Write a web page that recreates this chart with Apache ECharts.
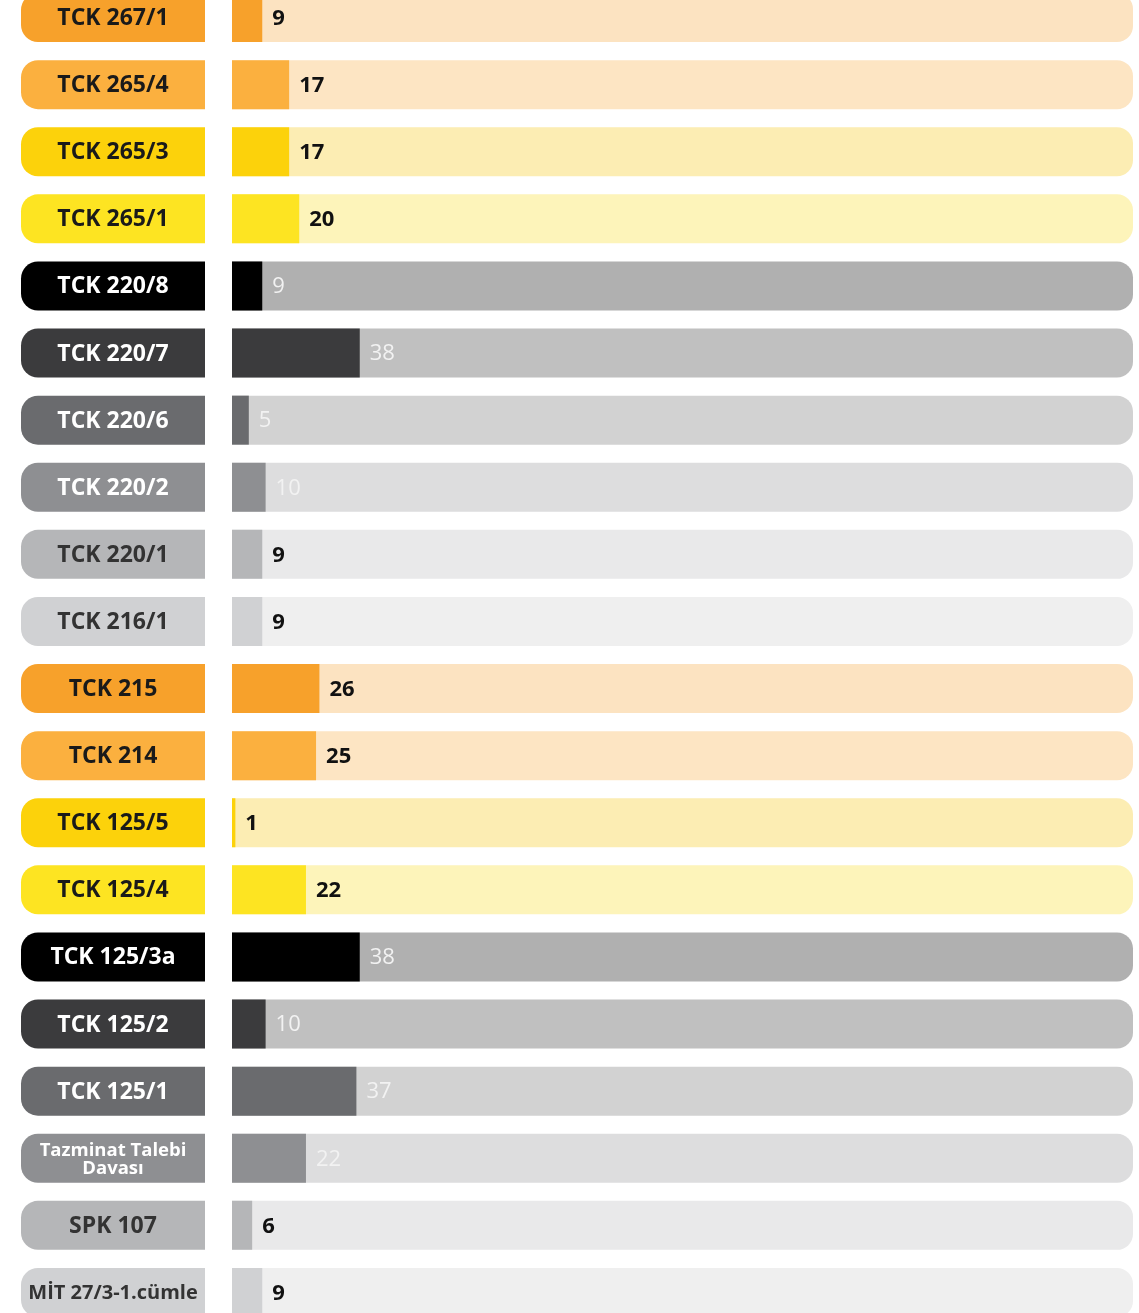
<!DOCTYPE html>
<html>
<head>
<meta charset="utf-8">
<script src="https://cdn.jsdelivr.net/npm/echarts@6/dist/echarts.min.js"></script>
<style>
html,body{margin:0;padding:0;background:#fff;overflow:hidden;width:1139px;height:1313px;}
#chart{position:absolute;left:0;top:-16px;width:1139px;height:1342px;}
</style>
</head>
<body>
<div id="chart"></div>
<script>
const categories = ['TCK 267/1','TCK 265/4','TCK 265/3','TCK 265/1','TCK 220/8','TCK 220/7','TCK 220/6','TCK 220/2','TCK 220/1','TCK 216/1','TCK 215','TCK 214','TCK 125/5','TCK 125/4','TCK 125/3a','TCK 125/2','TCK 125/1','Tazminat Talebi\nDavası','SPK 107','MİT 27/3-1.cümle'];
const values = [9,17,17,20,9,38,5,10,9,9,26,25,1,22,38,10,37,22,6,9];
const axisMax = 268;

const mainColors = ['#F7A12B','#FBB03F','#FCD20B','#FDE422','#000000','#3B3B3D','#6A6B6E','#8E8F92','#B5B6B8','#D0D1D3'];
const trackColors = ['#FCE3C1','#FDE5C3','#FCEDB3','#FDF4BA','#B0B0B0','#C0C0C0','#D2D2D2','#DDDDDE','#E9E9EA','#EFEFEF'];
const boxTextColors = ['#1a1a1a','#1a1a1a','#1a1a1a','#1a1a1a','#ffffff','#ffffff','#ffffff','#ffffff','#333333','#333333'];
const valueLight = [false,false,false,false,true,true,true,true,false,false];

const chart = echarts.init(document.getElementById('chart'), null, {renderer:'canvas'});
const FONT = '"Open Sans", sans-serif';
const barW = 49;

const boxData = categories.map((c,i)=>{
  const k = i % 10;
  let fs = 23, lh = 27;
  if (c.indexOf('\n')>=0) { fs = 18.5; lh = 18; }
  else if (c.length > 12) { fs = 20; lh = 24; }
  return {value:1, itemStyle:{color:mainColors[k]},
    label:{color:boxTextColors[k], fontSize:fs, lineHeight:lh}};
});
const trackData = categories.map((c,i)=>({value:axisMax, itemStyle:{color:trackColors[i%10]}}));
const valueData = values.map((v,i)=>{
  const k = i % 10;
  const light = valueLight[k];
  return {value:v, itemStyle:{color:mainColors[k]},
    label:{color: light ? '#f2f2f2' : '#111111', fontWeight: light ? 'normal' : 'bold'}};
});

chart.setOption({
  animation:false,
  backgroundColor:'#ffffff',
  grid:[
    {left:21, width:184, top:0, height:1342},
    {left:232, width:901, top:0, height:1342}
  ],
  xAxis:[
    {gridIndex:0, type:'value', min:0, max:1, show:false},
    {gridIndex:1, type:'value', min:0, max:axisMax, show:false}
  ],
  yAxis:[
    {gridIndex:0, type:'category', data:categories, inverse:true, show:false},
    {gridIndex:1, type:'category', data:categories, inverse:true, show:false}
  ],
  series:[
    {type:'bar', xAxisIndex:0, yAxisIndex:0, data:boxData, barWidth:barW,
     itemStyle:{borderRadius:[17,0,0,17]},
     label:{show:true, position:'inside', offset:[0,1], fontFamily:FONT, fontWeight:'bold',
       formatter:(p)=>categories[p.dataIndex]}},
    {type:'bar', xAxisIndex:1, yAxisIndex:1, data:trackData, barWidth:barW, barGap:'-100%',
     itemStyle:{borderRadius:[0,16,16,0]}, silent:true, z:1},
    {type:'bar', xAxisIndex:1, yAxisIndex:1, data:valueData, barWidth:barW, barGap:'-100%', z:2,
     label:{show:true, position:'right', distance:10, offset:[0,1], fontFamily:FONT, fontSize:22}}
  ]
});
</script>
</body>
</html>
